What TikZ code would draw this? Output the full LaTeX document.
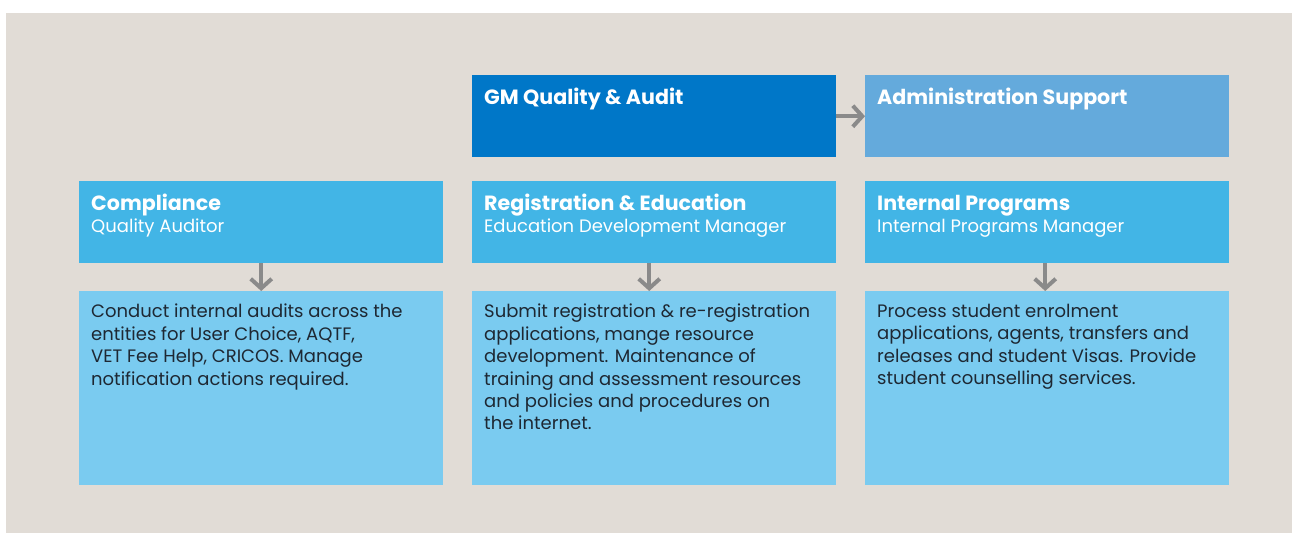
\documentclass[tikz,border=0pt]{standalone}
\usepackage{fontspec}
\setmainfont{Poppins}
\usetikzlibrary{positioning,arrows.meta}

\definecolor{bgGray}{HTML}{E1DCD6}
\definecolor{gmBlue}{HTML}{0077C8}
\definecolor{adminBlue}{HTML}{64AADC}
\definecolor{headBlue}{HTML}{42B5E6}
\definecolor{bodyBlue}{HTML}{7ACBF0}
\definecolor{arrowGray}{HTML}{8A8A8A}
\definecolor{bodyText}{HTML}{1E2833}

\newcommand{\titlefont}{\fontsize{20.6}{22}\selectfont\bfseries}
\newcommand{\subfont}{\fontsize{18}{22}\selectfont}
\newcommand{\bodyfont}{\fontsize{18}{22.4}\selectfont}

\tikzset{
  box/.style={anchor=north west, inner sep=0pt, minimum width=364pt},
  headbox/.style={box, minimum height=82pt},
  bodybox/.style={box, fill=bodyBlue, minimum height=194pt},
  titletext/.style={anchor=base west, inner sep=0pt, text=white, font=\titlefont},
  subtext/.style={anchor=base west, inner sep=0pt, text=white, font=\subfont},
  bodytext/.style={anchor=north west, inner sep=0pt, text=bodyText, font=\bodyfont, align=left},
  flow/.style={draw=arrowGray, line width=4pt, -{Straight Barb[length=9.5pt,width=21pt,line width=4pt]}}
}

\begin{document}
\begin{tikzpicture}[x=1pt,y=-1pt]

% Draw Background

\useasboundingbox (0,0) rectangle (1292,533);
\fill[bgGray] (6,13) rectangle (1292,533);

% Draw Top Row

\node[headbox, fill=gmBlue] (gm) at (472,75) {};
\node[headbox, fill=adminBlue] (admin) at (865,75) {};

% Draw Header Row

\node[headbox, fill=headBlue] (comp) at (79,181) {};
\node[headbox, fill=headBlue] (reg) at (472,181) {};
\node[headbox, fill=headBlue] (intl) at (865,181) {};

% Draw Body Row

\node[bodybox] (compBody) at (79,291) {};
\node[bodybox] (regBody) at (472,291) {};
\node[bodybox] (intlBody) at (865,291) {};

% Draw Titles

\node[titletext] (gmT) at ([xshift=12pt,yshift=-29pt]gm.north west) {GM Quality \& Audit};
\node[titletext] (adminT) at ([xshift=12pt,yshift=-29pt]admin.north west) {Administration Support};

\node[titletext] (compT) at ([xshift=12pt,yshift=-29pt]comp.north west) {Compliance};
\node[titletext] (regT) at ([xshift=12pt,yshift=-29pt]reg.north west) {Registration \& Education};
\node[titletext] (intlT) at ([xshift=12pt,yshift=-29pt]intl.north west) {Internal Programs};

% Draw Roles

\node[subtext] (compS) at ([yshift=-22pt]compT.base west) {Quality Auditor};
\node[subtext] (regS) at ([yshift=-22pt]regT.base west) {Education Development Manager};
\node[subtext] (intlS) at ([yshift=-22pt]intlT.base west) {Internal Programs Manager};

% Draw Duties

\node[bodytext] (compD) at ([xshift=12pt,yshift=-13pt]compBody.north west)
  {Conduct internal audits across the\\entities for User Choice, AQTF,\\VET Fee Help, CRICOS. Manage\\notification actions required.};
\node[bodytext] (regD) at ([xshift=12pt,yshift=-13pt]regBody.north west)
  {Submit registration \& re-registration\\applications, mange resource\\development. Maintenance of\\training and assessment resources\\and policies and procedures on\\the internet.};
\node[bodytext] (intlD) at ([xshift=12pt,yshift=-13pt]intlBody.north west)
  {Process student enrolment\\applications, agents, transfers and\\releases and student Visas. Provide\\student counselling services.};

% Draw Arrows

\draw[flow] (gm.east) -- (admin.west);
\draw[flow] (comp.south) -- (compBody.north);
\draw[flow] ([xshift=-5pt]reg.south) -- ([xshift=-5pt]regBody.north);
\draw[flow] ([xshift=-2pt]intl.south) -- ([xshift=-2pt]intlBody.north);

\end{tikzpicture}
\end{document}
